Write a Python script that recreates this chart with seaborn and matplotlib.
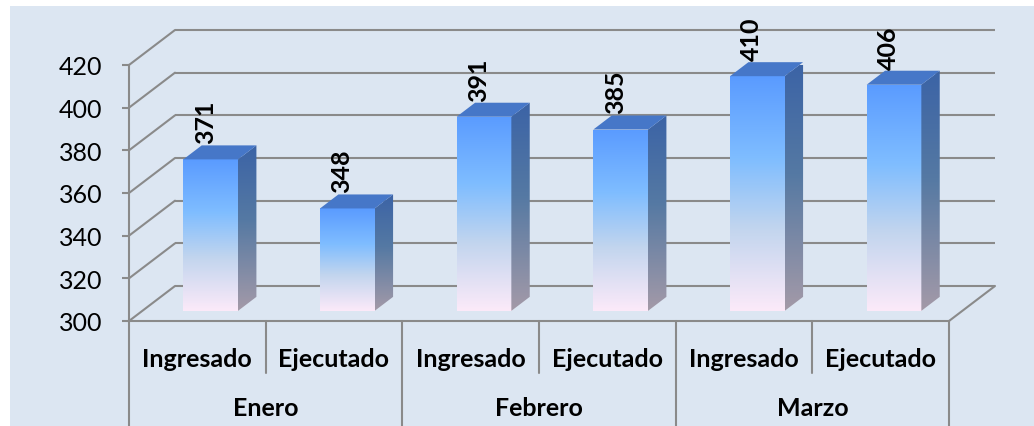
import numpy as np
import pandas as pd
import matplotlib
matplotlib.use("Agg")
import matplotlib.pyplot as plt
from matplotlib.patches import Rectangle, Polygon
from matplotlib.colors import LinearSegmentedColormap
import seaborn as sns

# ---------------- data ----------------
months = ["Enero", "Febrero", "Marzo"]
series = ["Ingresado", "Ejecutado"]
ingresado = [371, 391, 410]
ejecutado = [348, 385, 406]
y_ticks = [300, 320, 340, 360, 380, 400, 420]

rows = []
for m, vi, ve in zip(months, ingresado, ejecutado):
    rows.append({"clave": f"{m} {series[0]}", "mes": m, "serie": series[0], "valor": vi})
    rows.append({"clave": f"{m} {series[1]}", "mes": m, "serie": series[1], "valor": ve})
df = pd.DataFrame(rows)
order = list(df["clave"])

# ---------------- style ----------------
sns.set_style("white")
plt.rcParams["font.family"] = ["Lato", "DejaVu Sans"]

W, H, DPI = 1034, 427, 100
BG = "#DCE6F2"
GRID = "#8A8A8A"
front_cmap = LinearSegmentedColormap.from_list(
    "front", [(0.0, "#5A9BFF"), (0.35, "#7FBDFF"), (0.65, "#C2D5EE"), (1.0, "#FCEAF9")])
side_cmap = LinearSegmentedColormap.from_list(
    "side", [(0.0, "#3B63A6"), (0.45, "#5579A3"), (1.0, "#A49AA8")])
TOP_COLOR = "#4677C8"

fig = plt.figure(figsize=(W / DPI, H / DPI), dpi=DPI, facecolor="white")
fig.patches.append(Rectangle((10 / W, 0), 1 - 10 / W, (H - 7) / H,
                             transform=fig.transFigure, facecolor=BG,
                             edgecolor="none", zorder=-10))

# front plane of the plot in pixels
ax_l, ax_r, ax_t, ax_b = 129, 949, 66, 322
ax = fig.add_axes([ax_l / W, (H - ax_b) / H, (ax_r - ax_l) / W, (ax_b - ax_t) / H])
ax.set_facecolor("none")

sns.barplot(data=df, x="clave", y="valor", order=order, width=0.4,
            color="#5A9BFF", ax=ax)

ymin, ymax = y_ticks[0], y_ticks[-1]
n = len(order)
ax.set_xlim(-0.5, n - 0.5)
ax.set_ylim(ymin, ymax)

# depth offset of the back wall: 46 px right, 35 px up -> data units
px_x = (ax_r - ax_l) / n
px_y = (ax_b - ax_t) / (ymax - ymin)
DX, DY = 46 / px_x, 35 / px_y
F0, F1 = 0.29, 0.69  # bar depth span

x_lo, x_hi = -0.5, n - 0.5
for t in y_ticks:
    ax.plot([x_lo + DX, x_hi + DX], [t + DY, t + DY], color=GRID, lw=1.5,
            clip_on=False, zorder=0, solid_capstyle="butt")
    ax.plot([x_lo, x_lo + DX], [t, t + DY], color=GRID, lw=1.5,
            clip_on=False, zorder=0)
ax.plot([x_hi, x_hi + DX], [ymin, ymin + DY], color=GRID, lw=1.5, clip_on=False, zorder=0)

# 3-D bars built from the seaborn bar geometry
grad = np.linspace(0, 1, 256).reshape(-1, 1)
for p in list(ax.patches):
    x0, w, v = p.get_x(), p.get_width(), p.get_height()
    fx, fb, ft = x0 + F0 * DX, ymin + F0 * DY, v + F0 * DY
    d = (F1 - F0)
    p.set_xy((fx, fb))
    p.set_height(ft - fb)
    p.set_facecolor("none")
    p.set_edgecolor("none")
    p.set_zorder(3)
    im = ax.imshow(grad, cmap=front_cmap, extent=[fx, fx + w, fb, ft],
                   aspect="auto", origin="upper", zorder=3, interpolation="bilinear")
    im.set_clip_path(p)
    side = Polygon([(fx + w, fb), (fx + w, ft), (fx + w + d * DX, ft + d * DY),
                    (fx + w + d * DX, fb + d * DY)], closed=True,
                   facecolor="none", edgecolor="none", clip_on=False, zorder=3)
    ax.add_patch(side)
    im2 = ax.imshow(grad, cmap=side_cmap,
                    extent=[fx + w, fx + w + d * DX, fb, ft + d * DY],
                    aspect="auto", origin="upper", zorder=3, interpolation="bilinear")
    im2.set_clip_path(side)
    top = Polygon([(fx, ft), (fx + w, ft), (fx + w + d * DX, ft + d * DY),
                   (fx + d * DX, ft + d * DY)], closed=True,
                  facecolor=TOP_COLOR, edgecolor="none", clip_on=False, zorder=4)
    ax.add_patch(top)
    ax.text(fx + w / 2 - 0.04, ft + d * DY + 1.0, f"{int(round(v))}",
            rotation=90, ha="center", va="bottom", fontsize=18,
            fontweight="bold", color="black", zorder=5)

ax.set_xlim(-0.5, n - 0.5)
ax.set_ylim(ymin, ymax)

# spines / ticks
for s in ["top", "right"]:
    ax.spines[s].set_visible(False)
for s in ["left", "bottom"]:
    ax.spines[s].set_color(GRID)
    ax.spines[s].set_linewidth(1.5)
ax.set_yticks(y_ticks)
ax.set_yticklabels([str(t) for t in y_ticks], fontsize=18, color="black")
ax.tick_params(axis="y", length=5, width=1.5, color=GRID, pad=14, left=True)
ax.set_xticks(range(n))
ax.set_xticklabels(list(df["serie"]), fontsize=18, fontweight="bold", color="black")
ax.tick_params(axis="x", length=0, pad=27)
for lbl in ax.get_xticklabels():
    lbl.set_va("center")
ax.set_xlabel("")
ax.set_ylabel("")

# category separators and month labels
axh = ax_b - ax_t
short_y = -(374 - ax_b) / axh
long_y = -(H + 2 - ax_b) / axh
trans = ax.get_xaxis_transform()
for i in range(n + 1):
    xs = i - 0.5
    yb = long_y if i % 2 == 0 else short_y
    ax.plot([xs, xs], [0, yb], color=GRID, lw=1.5, transform=trans, clip_on=False)
for j, m in enumerate(months):
    ax.text(2 * j + 0.5, -(409 - ax_b) / axh, m, transform=trans, ha="center",
            va="center", fontsize=18, fontweight="bold", color="black")

fig.savefig("out.png", dpi=DPI, facecolor="white")
